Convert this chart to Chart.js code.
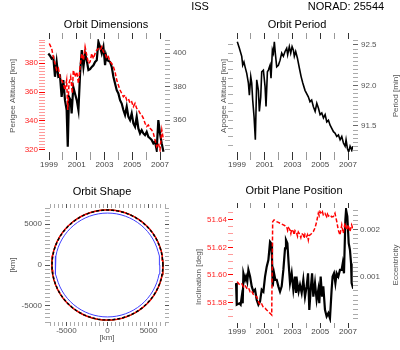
<!DOCTYPE html>
<html>
<head>
<meta charset="utf-8">
<title>ISS orbit</title>
<script src="https://cdn.jsdelivr.net/npm/chart.js@4"></script>
<style>
  body { margin: 0; background: #fff; }
  #wrap { position: relative; width: 400px; height: 350px; }
  #wrap canvas { position: absolute; left: 0; top: 0; }
</style>
</head>
<body>
<div id="wrap">
  <canvas id="dims" width="400" height="350"></canvas>
  <canvas id="period" width="400" height="350"></canvas>
  <canvas id="shape" width="400" height="350"></canvas>
  <canvas id="plane" width="400" height="350"></canvas>
</div>
<script>
// ---- Orbit Dimensions (perigee on left axis, apogee on right axis) ----
const perigeeYears = [1999.02, 1999.19, 1999.31, 1999.43, 1999.55, 1999.67, 1999.79, 1999.91, 2000.03, 2000.15,
  2000.27, 2000.35, 2000.44, 2000.56, 2000.68, 2000.75, 2000.87, 2001.0, 2001.12, 2001.24,
  2001.36, 2001.48, 2001.6, 2001.72, 2001.84, 2001.96, 2002.08, 2002.2, 2002.32, 2002.44,
  2002.56, 2002.68, 2002.8, 2002.92, 2003.04, 2003.16, 2003.28, 2003.4, 2003.52, 2003.64,
  2003.76, 2003.88, 2004.0, 2004.12, 2004.24, 2004.36, 2004.48, 2004.6, 2004.72, 2004.84,
  2004.96, 2005.08, 2005.2, 2005.32, 2005.44, 2005.56, 2005.68, 2005.8, 2005.92, 2006.04,
  2006.16, 2006.28, 2006.4, 2006.52, 2006.64, 2006.76, 2006.88, 2007.0, 2007.13, 2007.25];
const perigeeKm = [393.6, 390.1, 384.4, 379.8, 375.2, 376.5, 370.6, 368.3, 366.0, 361.4,
  368.3, 347.6, 366.0, 370.6, 359.1, 375.2, 370.6, 374.0, 366.0, 377.5,
  386.7, 382.1, 391.3, 385.5, 379.8, 380.9, 386.7, 383.2, 386.7, 389.0,
  390.1, 389.0, 391.3, 387.8, 386.7, 383.2, 384.4, 380.9, 379.8, 377.5,
  374.0, 368.3, 364.8, 361.4, 359.1, 356.8, 357.9, 354.5, 355.5, 352.2,
  353.3, 349.9, 352.2, 348.7, 347.6, 345.3, 344.1, 341.8, 338.4, 336.1,
  337.2, 334.9, 333.8, 331.5, 326.9, 322.3, 324.6, 320.0, 333.8, 326.9];
const apogeeYears = [1998.95, 1999.07, 1999.19, 1999.31, 1999.43, 1999.55, 1999.67, 1999.79, 1999.91, 2000.03,
  2000.15, 2000.27, 2000.35, 2000.44, 2000.56, 2000.63, 2000.75, 2000.87, 2001.0, 2001.12,
  2001.24, 2001.36, 2001.48, 2001.6, 2001.72, 2001.84, 2001.96, 2002.08, 2002.2, 2002.32,
  2002.44, 2002.56, 2002.68, 2002.8, 2002.92, 2003.04, 2003.11, 2003.21, 2003.4, 2003.52,
  2003.64, 2003.76, 2003.88, 2004.0, 2004.12, 2004.24, 2004.36, 2004.48, 2004.6, 2004.72,
  2004.84, 2004.96, 2005.08, 2005.2, 2005.32, 2005.44, 2005.56, 2005.68, 2005.8, 2005.92,
  2006.04, 2006.16, 2006.28, 2006.4, 2006.52, 2006.64, 2006.76, 2006.88, 2007.0, 2007.12, 2007.25];
const apogeeKm = [399.8, 398.5, 396.8, 397.5, 385.9, 394.8, 385.9, 386.5, 373.9, 383.9,
  371.9, 366.0, 344.1, 373.9, 371.9, 364.0, 379.9, 375.9, 371.9, 366.0,
  387.9, 401.8, 391.8, 399.8, 395.8, 389.9, 390.5, 391.8, 392.8, 394.8,
  395.8, 406.8, 403.8, 399.8, 403.8, 392.8, 398.8, 395.8, 394.8, 391.8,
  385.9, 381.9, 377.9, 375.9, 371.9, 369.9, 366.0, 363.0, 368.0, 362.0,
  360.0, 364.0, 358.0, 356.0, 362.0, 355.0, 352.0, 354.0, 352.0, 351.0,
  353.0, 350.0, 349.1, 348.1, 346.1, 347.1, 342.1, 360.0, 352.0, 346.1, 341.1];

// ---- Orbit Period ----
const periodYears = [1999.02, 1999.17, 1999.34, 1999.41, 1999.5, 1999.58, 1999.7, 1999.82, 1999.89, 1999.99,
  2000.06, 2000.13, 2000.23, 2000.32, 2000.42, 2000.54, 2000.61, 2000.71, 2000.78, 2000.9,
  2001.02, 2001.09, 2001.19, 2001.26, 2001.38, 2001.45, 2001.55, 2001.62, 2001.69, 2001.76,
  2001.86, 2001.98, 2002.1, 2002.22, 2002.34, 2002.46, 2002.58, 2002.65, 2002.77, 2002.87,
  2002.97, 2003.06, 2003.13, 2003.23, 2003.35, 2003.5, 2003.62, 2003.74, 2003.9, 2004.02,
  2004.14, 2004.26, 2004.38, 2004.5, 2004.63, 2004.75, 2004.87, 2004.99, 2005.11, 2005.23,
  2005.35, 2005.47, 2005.59, 2005.71, 2005.83, 2005.95, 2006.07, 2006.19, 2006.31, 2006.43,
  2006.55, 2006.67, 2006.79, 2006.86, 2006.96, 2007.05, 2007.15, 2007.27, 2007.34];
const periodMin = [92.54, 92.46, 92.36, 92.25, 92.29, 92.23, 92.15, 92.03, 91.88, 92.11,
  92.03, 91.82, 91.61, 91.33, 92.07, 91.94, 91.68, 91.86, 92.17, 92.19,
  91.99, 91.74, 92.17, 92.19, 92.25, 92.09, 92.44, 92.40, 92.54, 92.40,
  92.23, 92.25, 92.31, 92.40, 92.36, 92.42, 92.46, 92.38, 92.48, 92.40,
  92.48, 92.44, 92.36, 92.42, 92.34, 92.21, 92.11, 92.03, 91.94, 91.90,
  91.86, 91.80, 91.82, 91.74, 91.68, 91.78, 91.72, 91.64, 91.66, 91.60,
  91.64, 91.55, 91.57, 91.51, 91.47, 91.43, 91.41, 91.37, 91.39, 91.33,
  91.37, 91.29, 91.25, 91.33, 91.22, 91.18, 91.25, 91.20, 91.25];

// ---- Orbit Plane Position (inclination left, eccentricity right) ----
const inclYears = [1999.0, 1999.1, 1999.2, 1999.35, 1999.46, 1999.58, 1999.7, 1999.82, 1999.94, 2000.05,
  2000.17, 2000.3, 2000.42, 2000.54, 2000.66, 2000.78, 2000.9, 2001.02, 2001.14, 2001.26,
  2001.38, 2001.5, 2001.57, 2001.67, 2001.76, 2001.86, 2001.98, 2002.1, 2002.22, 2002.34,
  2002.46, 2002.58, 2002.65, 2002.72, 2002.82, 2002.88, 2002.94, 2003.06, 2003.12, 2003.18,
  2003.3, 2003.36, 2003.42, 2003.54, 2003.6, 2003.66, 2003.78, 2003.84, 2003.9, 2004.02,
  2004.08, 2004.14, 2004.2, 2004.26, 2004.38, 2004.5, 2004.62, 2004.74, 2004.86, 2004.92,
  2004.98, 2005.1, 2005.16, 2005.22, 2005.34, 2005.46, 2005.52, 2005.58, 2005.7, 2005.82,
  2005.94, 2006.06, 2006.19, 2006.3, 2006.42, 2006.55, 2006.66, 2006.78, 2006.9, 2007.02,
  2007.14, 2007.26, 2007.38];
const inclDeg = [51.5952, 51.5940, 51.5928, 51.5935, 51.5915, 51.5925, 51.5904, 51.5910, 51.5879, 51.5885,
  51.5860, 51.5850, 51.5843, 51.5807, 51.5783, 51.5790, 51.5765, 51.5760, 51.5747, 51.5735,
  51.5723, 51.5711, 51.6385, 51.6398, 51.6392, 51.6385, 51.6380, 51.6374, 51.6368, 51.6362,
  51.6356, 51.6349, 51.6320, 51.6340, 51.6325, 51.6300, 51.6330, 51.6313, 51.6290, 51.6320,
  51.6301, 51.6280, 51.6310, 51.6289, 51.6270, 51.6300, 51.6289, 51.6265, 51.6295, 51.6277,
  51.6290, 51.6253, 51.6285, 51.6289, 51.6300, 51.6313, 51.6340, 51.6385, 51.6446, 51.6430,
  51.6458, 51.6440, 51.6455, 51.6434, 51.6445, 51.6422, 51.6440, 51.6425, 51.6434, 51.6420,
  51.6422, 51.6446, 51.6385, 51.6325, 51.6289, 51.6362, 51.6301, 51.6374, 51.6325, 51.6362,
  51.6313, 51.6362, 51.6325];
const eccYears = [1998.93, 1998.98, 1999.17, 1999.26, 1999.34, 1999.41, 1999.46, 1999.58, 1999.65, 1999.74,
  1999.82, 1999.94, 2000.06, 2000.18, 2000.3, 2000.42, 2000.54, 2000.66, 2000.78, 2000.9,
  2001.02, 2001.14, 2001.26, 2001.38, 2001.45, 2001.52, 2001.57, 2001.67, 2001.76, 2001.86,
  2001.98, 2002.1, 2002.22, 2002.34, 2002.46, 2002.53, 2002.63, 2002.72, 2002.82, 2002.94,
  2003.06, 2003.18, 2003.25, 2003.35, 2003.44, 2003.54, 2003.66, 2003.78, 2003.9, 2004.02,
  2004.12, 2004.21, 2004.31, 2004.41, 2004.5, 2004.62, 2004.74, 2004.86, 2004.93, 2005.03,
  2005.13, 2005.22, 2005.34, 2005.46, 2005.58, 2005.7, 2005.82, 2005.89, 2005.99, 2006.09,
  2006.18, 2006.3, 2006.42, 2006.54, 2006.62, 2006.71, 2006.81, 2006.86, 2006.95, 2007.05,
  2007.14, 2007.22, 2007.26, 2007.38];
const eccValues = [0.00086, 0.00040, 0.00043, 0.00040, 0.00057, 0.00043, 0.00107, 0.00093, 0.00100, 0.00089,
  0.00114, 0.00100, 0.00079, 0.00068, 0.00072, 0.00050, 0.00040, 0.00047, 0.00072, 0.00068,
  0.00100, 0.00121, 0.00135, 0.00174, 0.00171, 0.00143, 0.00079, 0.00107, 0.00093, 0.00093,
  0.00079, 0.00068, 0.00079, 0.00114, 0.00160, 0.00178, 0.00171, 0.00128, 0.00086, 0.00107,
  0.00072, 0.00100, 0.00065, 0.00086, 0.00068, 0.00082, 0.00065, 0.00093, 0.00057, 0.00079,
  0.00107, 0.00029, 0.00072, 0.00107, 0.00057, 0.00086, 0.00050, 0.00072, 0.00043, 0.00100,
  0.00057, 0.00079, 0.00029, 0.00015, 0.00022, 0.00011, 0.00072, 0.00100, 0.00107, 0.00086,
  0.00107, 0.00100, 0.00114, 0.00114, 0.00128, 0.00107, 0.00221, 0.00242, 0.00228, 0.00171,
  0.00157, 0.00128, 0.00086, 0.00074];

// ---- Orbit Shape (semi-major axis and eccentricity of each outline) ----
const shapeNames = ['current orbit', 'orbit 2', 'orbit 3', 'Earth'];
const shapeSemiMajorKm = [6750, 6768, 6785, 6378];
const shapeEcc = [0.0008, 0.0009, 0.0010, 0];

// tick labels
const yearLabels = [1999, 2001, 2003, 2005, 2007];
const perigeeLabels = [320, 340, 360, 380];
const apogeeLabels = [360, 380, 400];
const periodLabels = [91.5, 92.0, 92.5];
const inclLabels = [51.58, 51.60, 51.62, 51.64];
const eccLabels = [0.001, 0.002];
const shapeLabels = [-5000, 0, 5000];

const FONT = '"Liberation Sans", Arial, Helvetica, sans-serif';
const YEAR_MIN = 1998.71, YEAR_MAX = 2007.36;
Chart.defaults.font.family = FONT;

function pts(xs, ys) {
  return xs.map((x, i) => ({ x: x, y: ys[i] }));
}

function isIn(v, list) {
  return list.some(t => Math.abs(t - v) < 1e-7);
}

// orbit outline from its elements, focus at the Earth's centre
function orbitOutline(a, e) {
  const out = [];
  for (let deg = 0; deg <= 360; deg += 5) {
    const t = deg * Math.PI / 180;
    const r = a * (1 - e * e) / (1 + e * Math.cos(t));
    out.push({ x: r * Math.cos(t), y: r * Math.sin(t) });
  }
  return out;
}

// tick marks only: no axis line, nothing inside the plot
function tickGrid(len, colorFor) {
  return {
    drawOnChartArea: false,
    drawTicks: true,
    tickLength: len,
    lineWidth: 1,
    color: c => c.tick ? colorFor(c.tick.value) : '#aaa'
  };
}

function yearAxis(pos, labels, len, pad, size) {
  return {
    type: 'linear', position: pos, min: YEAR_MIN, max: YEAR_MAX,
    afterFit: s => { s.height = size; },
    border: { display: false },
    grid: tickGrid(len, v => isIn(v, yearLabels) ? '#333' : '#999'),
    ticks: {
      stepSize: 1, includeBounds: false, autoSkip: false, maxRotation: 0,
      padding: pad, font: { size: 8 }, color: '#444',
      callback: v => labels && isIn(v, yearLabels) ? String(v) : ''
    }
  };
}

// note: keep (max - min) / step away from a whole number, otherwise
// Chart.js starts the ticks at min instead of at round values
function valueAxis(pos, o) {
  return {
    type: 'linear', position: pos, min: o.min, max: o.max,
    afterFit: s => { if (s.isHorizontal()) s.height = o.size; else s.width = o.size; },
    border: { display: false },
    grid: tickGrid(o.len, v => isIn(v, o.labels) ? o.major : o.minor),
    ticks: {
      stepSize: o.step, includeBounds: false, autoSkip: false, maxRotation: 0,
      padding: o.pad, font: { size: 8 }, color: o.color,
      callback: v => o.show && isIn(v, o.labels) ? v.toFixed(o.digits) : ''
    }
  };
}

// panel titles and axis titles, placed on the page grid
function textPlugin(items) {
  return {
    id: 'panelText',
    afterDraw(chart) {
      const ctx = chart.ctx;
      items.forEach(t => {
        ctx.save();
        ctx.translate(t.x, t.y);
        if (t.rot) ctx.rotate(-Math.PI / 2);
        ctx.font = t.size + 'px ' + FONT;
        ctx.fillStyle = t.color || '#000';
        ctx.textAlign = 'center';
        ctx.textBaseline = 'middle';
        ctx.fillText(t.text, 0, 0);
        ctx.restore();
      });
    }
  };
}

function baseOptions(padding, scales) {
  return {
    responsive: false,
    animation: false,
    events: [],
    layout: { padding: padding },
    plugins: { legend: { display: false }, tooltip: { enabled: false } },
    elements: { point: { radius: 0 }, line: { tension: 0 } },
    scales: scales
  };
}

const GRAY = '#555';

// Orbit Dimensions
new Chart(document.getElementById('dims'), {
  type: 'line',
  data: {
    datasets: [
      { label: 'Perigee', data: pts(perigeeYears, perigeeKm), xAxisID: 'x', yAxisID: 'yPer',
        borderColor: '#ff0000', borderWidth: 1.5, borderDash: [4, 2] },
      { label: 'Apogee', data: pts(apogeeYears, apogeeKm), xAxisID: 'x', yAxisID: 'yApo',
        borderColor: '#000', borderWidth: 2.2 }
    ]
  },
  options: baseOptions({ left: 0, right: 200, top: 33, bottom: 176 }, {
    x: yearAxis('bottom', true, 8, 0, 22),
    xTop: yearAxis('top', false, 6, 0, 6),
    yPer: valueAxis('left', { min: 318.55, max: 396.7, step: 2, labels: perigeeLabels, digits: 0, show: true,
      size: 45, len: 6, pad: 1, color: '#ff2020', major: '#ff0000', minor: '#ff9a9a' }),
    yApo: valueAxis('right', { min: 340.9, max: 408.5, step: 2.5, labels: apogeeLabels, digits: 0, show: true,
      size: 35, len: 5, pad: 3, color: GRAY, major: '#666', minor: '#aaa' })
  }),
  plugins: [textPlugin([
    { text: 'ISS', x: 200, y: 7, size: 11 },
    { text: 'NORAD: 25544', x: 346, y: 7, size: 11 },
    { text: 'Orbit Dimensions', x: 106, y: 25, size: 11 },
    { text: 'Perigee Altitude [km]', x: 12.5, y: 96, size: 8, color: GRAY, rot: true }
  ])]
});

// Orbit Period
new Chart(document.getElementById('period'), {
  type: 'line',
  data: {
    datasets: [
      { label: 'Period', data: pts(periodYears, periodMin), xAxisID: 'x', yAxisID: 'yPer',
        borderColor: '#000', borderWidth: 1.6 }
    ]
  },
  options: baseOptions({ left: 213, right: 12, top: 33, bottom: 176 }, {
    x: yearAxis('bottom', true, 8, 0, 22),
    xTop: yearAxis('top', false, 6, 0, 6),
    yApo: valueAxis('left', { min: 340.9, max: 408.4, step: 5, labels: [], digits: 0, show: false,
      size: 20, len: 5, pad: 2, color: GRAY, major: '#888', minor: '#aaa' }),
    yPer: valueAxis('right', { min: 91.179, max: 92.574, step: 0.05, labels: periodLabels, digits: 1, show: true,
      size: 35, len: 5, pad: 3, color: GRAY, major: '#666', minor: '#aaa' })
  }),
  plugins: [textPlugin([
    { text: 'Orbit Period', x: 297, y: 25, size: 11 },
    { text: 'Apogee Altitude [km]', x: 223.5, y: 96, size: 8, color: GRAY, rot: true },
    { text: 'Period [min]', x: 396, y: 96, size: 8, color: GRAY, rot: true }
  ])]
});

// Orbit Shape
const shapeStyles = [
  { color: '#000', width: 1.5, dash: [3, 2] },
  { color: '#ff0000', width: 1.5, dash: [] },
  { color: '#00a000', width: 1, dash: [] },
  { color: '#4040ff', width: 1, dash: [] }
];
new Chart(document.getElementById('shape'), {
  type: 'scatter',
  data: {
    datasets: shapeNames.map((name, i) => ({
      label: name,
      data: orbitOutline(shapeSemiMajorKm[i], shapeEcc[i]),
      showLine: true,
      borderColor: shapeStyles[i].color,
      borderWidth: shapeStyles[i].width,
      borderDash: shapeStyles[i].dash,
      pointRadius: 0
    }))
  },
  options: baseOptions({ left: 0, right: 225, top: 202, bottom: 14 }, {
    x: valueAxis('bottom', { min: -7000, max: 7000, step: 500, labels: shapeLabels, digits: 0, show: true,
      size: 14, len: 4, pad: 0, color: GRAY, major: '#555', minor: '#aaa' }),
    xTop: valueAxis('top', { min: -7000, max: 7000, step: 500, labels: shapeLabels, digits: 0, show: false,
      size: 6, len: 4, pad: 0, color: GRAY, major: '#555', minor: '#aaa' }),
    y: valueAxis('left', { min: -7000, max: 7000, step: 500, labels: shapeLabels, digits: 0, show: true,
      size: 50, len: 5, pad: 3, color: GRAY, major: '#555', minor: '#aaa' }),
    yRight: valueAxis('right', { min: -7000, max: 7000, step: 500, labels: shapeLabels, digits: 0, show: false,
      size: 10, len: 4, pad: 0, color: GRAY, major: '#555', minor: '#aaa' })
  }),
  plugins: [textPlugin([
    { text: 'Orbit Shape', x: 102, y: 192, size: 11 },
    { text: '[km]', x: 12.5, y: 265, size: 8, color: GRAY, rot: true },
    { text: '[km]', x: 107, y: 338, size: 8, color: GRAY }
  ])]
});

// Orbit Plane Position
new Chart(document.getElementById('plane'), {
  type: 'line',
  data: {
    datasets: [
      { label: 'Inclination', data: pts(inclYears, inclDeg), xAxisID: 'x', yAxisID: 'yInc',
        borderColor: '#ff0000', borderWidth: 1.5, borderDash: [4, 2] },
      { label: 'Eccentricity', data: pts(eccYears, eccValues), xAxisID: 'x', yAxisID: 'yEcc',
        borderColor: '#000', borderWidth: 2.2 }
    ]
  },
  options: baseOptions({ left: 200, right: 12, top: 202, bottom: 13 }, {
    x: yearAxis('bottom', true, 5, -1, 14),
    xTop: yearAxis('top', false, 5, 0, 6),
    yInc: valueAxis('left', { min: 51.5653, max: 51.6484, step: 0.005, labels: inclLabels, digits: 2, show: true,
      size: 33, len: 5, pad: 1, color: '#ff2020', major: '#ff0000', minor: '#ff9a9a' }),
    yEcc: valueAxis('right', { min: 0.00001, max: 0.00246, step: 0.0001, labels: eccLabels, digits: 3, show: true,
      size: 35, len: 5, pad: 2, color: GRAY, major: '#666', minor: '#aaa' })
  }),
  plugins: [textPlugin([
    { text: 'Orbit Plane Position', x: 294, y: 191, size: 11 },
    { text: 'Inclination [deg]', x: 199, y: 277, size: 8, color: GRAY, rot: true },
    { text: 'Eccentricity', x: 396, y: 265, size: 8, color: GRAY, rot: true }
  ])]
});
</script>
</body>
</html>
